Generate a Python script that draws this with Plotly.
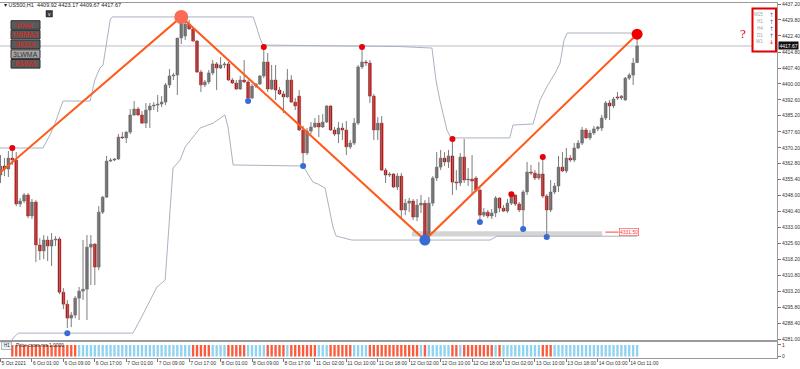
import plotly.graph_objects as go

# ---------------- data (US500, H1) ----------------
bar_open = [4357.5, 4361.7, 4360.3, 4365.4, 4364.5, 4344.0, 4345.4, 4348.2, 4338.4, 4344.9,
            4324.9, 4322.1, 4327.2, 4324.4, 4327.2, 4327.7, 4302.9, 4297.3, 4290.8, 4292.2,
            4300.1, 4303.4, 4304.3, 4323.9, 4325.3, 4314.6, 4340.2, 4347.2, 4364.0, 4364.5,
            4365.0, 4375.2, 4374.8, 4377.5, 4385.5, 4388.3, 4385.5, 4381.7, 4387.8, 4389.7,
            4390.1, 4390.6, 4391.5, 4399.5, 4403.7, 4404.1, 4421.4, 4422.3, 4427.9, 4425.6,
            4420.0, 4405.5, 4399.5, 4400.9, 4405.1, 4409.3, 4407.4, 4408.8, 4409.3, 4401.8,
            4400.4, 4397.6, 4401.8, 4400.9, 4393.4, 4399.0, 4399.9, 4403.7, 4410.2, 4397.6,
            4401.8, 4397.1, 4395.3, 4393.9, 4401.8, 4391.5, 4394.3, 4378.5, 4367.8, 4378.0,
            4379.9, 4381.7, 4379.9, 4382.2, 4389.7, 4378.5, 4376.6, 4379.4, 4378.5, 4370.6,
            4372.4, 4381.7, 4407.9, 4410.2, 4409.7, 4394.3, 4378.5, 4381.7, 4359.8, 4357.5,
            4358.0, 4351.9, 4357.0, 4341.2, 4344.4, 4345.4, 4337.9, 4343.5, 4344.4, 4329.0,
            4344.4, 4356.1, 4361.2, 4365.4, 4363.6, 4366.4, 4354.2, 4353.8, 4365.9, 4355.2,
            4355.6, 4356.1, 4350.5, 4338.8, 4340.2, 4338.4, 4339.8, 4346.8, 4342.1, 4340.7,
            4344.4, 4348.2, 4344.0, 4341.2, 4349.6, 4358.9, 4358.4, 4356.1, 4358.0, 4347.7,
            4341.2, 4349.6, 4352.4, 4361.2, 4359.4, 4365.4, 4364.5, 4370.1, 4372.4, 4378.5,
            4374.8, 4377.1, 4379.0, 4379.4, 4384.1, 4391.1, 4389.7, 4393.9, 4393.4, 4392.5,
            4402.7, 4404.1, 4409.92]
bar_high = [4366.8, 4365.4, 4368.7, 4369.6, 4368.2, 4346.8, 4349.1, 4349.1, 4346.3, 4345.8,
            4328.1, 4329.5, 4329.0, 4330.5, 4329.0, 4328.6, 4304.8, 4299.2, 4293.6, 4301.1,
            4305.3, 4327.2, 4329.5, 4329.5, 4325.8, 4343.0, 4347.7, 4366.4, 4365.4, 4365.4,
            4376.6, 4377.5, 4378.0, 4388.3, 4392.0, 4389.2, 4387.3, 4391.1, 4391.1, 4391.5,
            4394.8, 4394.3, 4400.4, 4406.9, 4405.1, 4421.4, 4431.2, 4429.3, 4429.8, 4426.5,
            4420.4, 4406.5, 4401.8, 4406.5, 4411.1, 4410.2, 4412.5, 4410.2, 4410.2, 4402.7,
            4401.8, 4403.7, 4411.1, 4401.8, 4399.9, 4400.4, 4404.1, 4417.2, 4414.4, 4408.8,
            4408.8, 4398.5, 4396.7, 4406.9, 4404.1, 4393.4, 4397.1, 4380.4, 4379.4, 4382.2,
            4384.1, 4385.5, 4385.9, 4390.1, 4390.1, 4379.9, 4382.2, 4381.7, 4382.7, 4373.8,
            4384.1, 4408.8, 4417.2, 4411.1, 4411.1, 4395.3, 4384.5, 4385.0, 4360.8, 4358.9,
            4358.4, 4358.4, 4358.4, 4346.3, 4346.8, 4346.3, 4346.3, 4348.2, 4345.8, 4347.2,
            4357.0, 4368.2, 4369.2, 4368.2, 4369.2, 4374.3, 4359.8, 4367.8, 4374.3, 4360.8,
            4366.8, 4357.0, 4351.4, 4342.1, 4341.2, 4341.6, 4347.7, 4347.2, 4343.5, 4346.3,
            4348.6, 4348.4, 4344.9, 4350.5, 4363.6, 4362.2, 4359.8, 4363.6, 4365.9, 4348.6,
            4355.2, 4353.8, 4366.4, 4368.2, 4370.1, 4366.8, 4372.4, 4373.8, 4379.9, 4379.4,
            4378.5, 4380.4, 4380.4, 4385.5, 4392.0, 4392.5, 4393.9, 4396.2, 4394.8, 4403.2,
            4405.1, 4412.1, 4423.17]
bar_low = [4353.8, 4357.0, 4356.6, 4362.2, 4343.0, 4342.6, 4344.4, 4337.4, 4337.0, 4316.9,
           4317.9, 4318.3, 4317.4, 4315.1, 4324.4, 4302.0, 4295.0, 4286.2, 4286.6, 4290.8,
           4289.9, 4299.2, 4289.9, 4306.2, 4306.2, 4313.2, 4339.3, 4346.8, 4363.6, 4364.0,
           4364.5, 4374.3, 4372.4, 4376.6, 4385.0, 4385.0, 4381.3, 4379.4, 4379.4, 4387.8,
           4386.9, 4389.2, 4390.1, 4398.1, 4401.8, 4394.8, 4418.6, 4420.5, 4425.1, 4419.5,
           4405.1, 4396.2, 4398.5, 4399.9, 4404.1, 4397.1, 4406.9, 4407.4, 4401.3, 4399.9,
           4397.1, 4397.1, 4400.4, 4392.5, 4392.9, 4398.1, 4399.5, 4402.7, 4396.2, 4397.1,
           4392.5, 4394.8, 4386.4, 4393.4, 4391.1, 4387.8, 4378.0, 4363.1, 4366.8, 4376.6,
           4379.4, 4375.2, 4379.4, 4381.7, 4378.0, 4375.7, 4372.4, 4373.8, 4366.8, 4369.6,
           4371.5, 4380.8, 4406.9, 4408.3, 4391.1, 4373.8, 4373.8, 4359.4, 4353.8, 4356.6,
           4351.4, 4350.5, 4337.4, 4338.8, 4340.2, 4336.5, 4336.0, 4339.8, 4327.2, 4328.1,
           4343.0, 4354.7, 4359.8, 4361.7, 4360.8, 4348.2, 4350.5, 4352.4, 4353.8, 4352.4,
           4348.2, 4349.6, 4337.0, 4337.9, 4337.4, 4337.0, 4337.9, 4340.2, 4340.2, 4339.8,
           4343.5, 4343.0, 4340.2, 4332.8, 4348.2, 4357.5, 4355.2, 4355.2, 4346.8, 4329.0,
           4340.2, 4348.6, 4349.6, 4358.9, 4358.4, 4363.6, 4363.6, 4369.6, 4371.5, 4374.3,
           4373.8, 4376.2, 4378.0, 4378.0, 4383.1, 4383.1, 4388.7, 4392.5, 4392.5, 4392.0,
           4401.8, 4399.5, 4409.67]
bar_close = [4361.7, 4360.3, 4365.4, 4364.5, 4344.0, 4345.4, 4348.2, 4338.4, 4344.9, 4324.9,
             4322.1, 4327.2, 4324.4, 4327.2, 4327.7, 4302.9, 4297.3, 4290.8, 4292.2, 4300.1,
             4303.4, 4304.3, 4323.9, 4325.3, 4314.6, 4340.2, 4347.2, 4364.0, 4364.5, 4365.0,
             4375.2, 4374.8, 4377.5, 4385.5, 4388.3, 4385.5, 4381.7, 4387.8, 4389.7, 4390.1,
             4390.6, 4391.5, 4399.5, 4403.7, 4404.1, 4421.4, 4428.8, 4427.9, 4425.6, 4420.0,
             4405.5, 4399.5, 4400.9, 4405.1, 4409.3, 4407.4, 4408.8, 4409.3, 4401.8, 4400.4,
             4397.6, 4401.8, 4400.9, 4393.4, 4399.0, 4399.9, 4403.7, 4410.2, 4397.6, 4401.8,
             4397.1, 4395.3, 4393.9, 4401.8, 4391.5, 4389.7, 4378.5, 4367.8, 4378.0, 4379.9,
             4381.7, 4379.9, 4382.2, 4389.7, 4378.5, 4376.6, 4379.4, 4378.5, 4370.6, 4372.4,
             4381.7, 4407.9, 4410.2, 4409.7, 4394.3, 4378.5, 4381.7, 4359.8, 4357.5, 4358.0,
             4351.9, 4357.0, 4341.2, 4344.4, 4345.4, 4337.9, 4343.5, 4344.4, 4329.0, 4344.4,
             4356.1, 4361.2, 4365.4, 4363.6, 4366.4, 4354.2, 4353.8, 4365.9, 4355.2, 4355.6,
             4354.7, 4350.5, 4338.8, 4340.2, 4338.4, 4339.8, 4346.8, 4342.1, 4340.7, 4344.4,
             4348.2, 4344.0, 4341.2, 4349.6, 4358.9, 4358.4, 4356.1, 4358.0, 4347.7, 4341.2,
             4349.6, 4352.4, 4361.2, 4359.4, 4365.4, 4364.5, 4370.1, 4372.4, 4378.5, 4374.8,
             4377.1, 4379.0, 4379.9, 4384.1, 4391.1, 4389.7, 4392.9, 4393.4, 4394.3, 4402.7,
             4404.1, 4409.7, 4417.67]

# channel (gray envelope) vertices: bar index, price
upper_bars = [-0.2, 10.8, 12.6, 13.9, 15.9, 22.8, 24.0, 25.3, 26.1, 27.9, 28.4, 64.3, 65.0, 66.0,
              66.8, 101.7, 109.8, 110.8, 111.8, 113.6, 114.6, 129.6, 130.4, 135.5, 137.3, 139.3,
              141.3, 142.4, 143.4, 144.2, 162.0]
upper_prices = [4370.1, 4370.1, 4376.2, 4381.7, 4392.0, 4392.0, 4401.8, 4407.4, 4408.8, 4429.8,
                4431.2, 4431.2, 4427.4, 4421.4, 4418.1, 4417.4, 4416.7, 4401.8, 4392.5, 4378.5,
                4374.8, 4374.8, 4380.8, 4381.3, 4392.5, 4399.5, 4405.5, 4409.7, 4420.4, 4423.7,
                4423.7]
lower_bars = [2.4, 3.2, 4.5, 33.7, 35.5, 39.8, 41.9, 43.9, 45.7, 47.0, 50.8, 54.1, 57.1, 57.9,
              59.2, 77.0, 79.5, 80.8, 82.6, 83.8, 84.6, 85.4, 89.4, 124.6, 126.3, 162.0]
lower_prices = [4278.2, 4281.5, 4283.8, 4283.8, 4289.9, 4305.3, 4308.5, 4360.8, 4364.5, 4370.6,
                4379.4, 4381.7, 4385.5, 4379.9, 4362.2, 4361.7, 4354.2, 4353.3, 4351.4, 4341.2,
                4333.3, 4329.1, 4327.2, 4327.2, 4329.0, 4329.0]

# zigzag
zigzag_bars = [-10, 46, 108, 162]
zigzag_prices = [4343.0, 4431.2, 4327.2, 4423.17]

# fractal dots
red_dot_bars = [3, 67, 92, 115, 130, 138]
red_dot_prices = [4370.1, 4417.2, 4417.2, 4374.3, 4348.6, 4365.9]
blue_dot_bars = [17, 63, 77, 122, 133, 139]
blue_dot_prices = [4283.8, 4392.0, 4361.7, 4335.6, 4332.3, 4328.6]

# support zone
zone_bars = [104.7, 153.1]
zone_prices = [4328.9, 4331.3]
zone_label = "4331.50"

# "Price cross ma" histogram runs: (first bar, last bar, state 1=above/blue 0=below/red)
hist_runs = [(3, 19, 0), (20, 48, 1), (49, 53, 0), (54, 57, 1), (58, 62, 0), (63, 67, 1),
             (68, 72, 0), (73, 73, 1), (74, 80, 0), (81, 83, 1), (84, 89, 0), (90, 93, 1),
             (94, 106, 0), (107, 107, 1), (108, 108, 0), (109, 114, 1), (115, 116, 0),
             (117, 117, 1), (118, 125, 0), (126, 126, 1), (127, 127, 0), (128, 137, 1),
             (138, 140, 0), (141, 162, 1)]

time_ticks = list(range(0, 161, 8))
time_labels = ["5 Oct 2021", "6 Oct 01:00", "6 Oct 09:00", "6 Oct 17:00", "7 Oct 01:00",
               "7 Oct 09:00", "7 Oct 17:00", "8 Oct 01:00", "8 Oct 09:00", "8 Oct 17:00",
               "11 Oct 02:00", "11 Oct 10:00", "11 Oct 18:00", "12 Oct 02:00", "12 Oct 10:00",
               "12 Oct 18:00", "13 Oct 02:00", "13 Oct 10:00", "13 Oct 18:00", "14 Oct 03:00",
               "14 Oct 11:00"]
price_ticks = [4437.20, 4429.80, 4422.40, 4414.80, 4407.40, 4400.00, 4392.60, 4385.20, 4377.60,
               4370.20, 4362.80, 4355.40, 4348.00, 4340.40, 4333.00, 4325.60, 4318.20, 4310.80,
               4303.20, 4295.80, 4288.40, 4281.00]

buttons = ["Pivot", "LWMA9", "3EMA", "3LWMA", "EMMA"]
buttons_active = [True, True, True, False, True]
tf_names = ["M15", "H1", "H4", "D1", "W1"]
tf_dirs = [1, 1, 1, 1, -1]

# ---------------- figure ----------------
W, H = 800, 369
ML, MR, MT, MB = 0, 23, 3, 11
PW = W - ML - MR
PH = H - MT - MB
FONT = "Liberation Sans"


def fx(px):
    return (px - ML) / PW


def fy(py):
    return (H - MB - py) / PH


N = len(bar_open)
fig = go.Figure()

# channel lines
fig.add_trace(go.Scatter(x=upper_bars, y=upper_prices, mode="lines",
                         line=dict(color="#a9b3c1", width=1), hoverinfo="skip"))
fig.add_trace(go.Scatter(x=lower_bars, y=lower_prices, mode="lines",
                         line=dict(color="#a9b3c1", width=1), hoverinfo="skip"))

# wicks
wx, wy = [], []
for i in range(N):
    wx += [i, i, None]
    wy += [bar_low[i], bar_high[i], None]
fig.add_trace(go.Scatter(x=wx, y=wy, mode="lines", line=dict(color="#7c7c7c", width=1),
                         hoverinfo="skip"))

# bodies
ux, ub, uh, dx, db, dh = [], [], [], [], [], []
for i in range(N):
    o, c = bar_open[i], bar_close[i]
    base = min(o, c)
    hgt = max(abs(c - o), 0.45)
    if c >= o:
        ux.append(i); ub.append(base); uh.append(hgt)
    else:
        dx.append(i); db.append(base); dh.append(hgt)
fig.add_trace(go.Bar(x=ux, y=uh, base=ub, width=0.72,
                     marker=dict(color="#6c6c6c", line=dict(color="#555555", width=0.4)),
                     hoverinfo="skip"))
fig.add_trace(go.Bar(x=dx, y=dh, base=db, width=0.72,
                     marker=dict(color="#d60000", line=dict(color="#a00000", width=0.4)),
                     hoverinfo="skip"))

# zigzag
fig.add_trace(go.Scatter(x=zigzag_bars, y=zigzag_prices, mode="lines",
                         line=dict(color="#ff5a1c", width=2), hoverinfo="skip"))

# fractal dots
fig.add_trace(go.Scatter(x=red_dot_bars, y=red_dot_prices, mode="markers",
                         marker=dict(color="#e8000b", size=6), hoverinfo="skip"))
fig.add_trace(go.Scatter(x=blue_dot_bars, y=blue_dot_prices, mode="markers",
                         marker=dict(color="#3a6ad6", size=6), hoverinfo="skip"))
# zigzag pivots
fig.add_trace(go.Scatter(x=[zigzag_bars[1]], y=[zigzag_prices[1]], mode="markers",
                         marker=dict(color="#fa6a55", size=14), hoverinfo="skip"))
fig.add_trace(go.Scatter(x=[zigzag_bars[2]], y=[zigzag_prices[2]], mode="markers",
                         marker=dict(color="#3a6ad6", size=11), hoverinfo="skip"))
fig.add_trace(go.Scatter(x=[zigzag_bars[3]], y=[zigzag_prices[3]], mode="markers",
                         marker=dict(color="#ee0000", size=11), hoverinfo="skip"))

# histogram sub-window
hx, hc = [], []
for a, b, s in hist_runs:
    for i in range(a, b + 1):
        hx.append(i)
        hc.append("#8fd3f0" if s == 1 else "#fb5b3c")
fig.add_trace(go.Bar(x=hx, y=[1] * len(hx), base=[0] * len(hx), width=0.6,
                     marker=dict(color=hc, line=dict(width=0)), xaxis="x2", yaxis="y2",
                     hoverinfo="skip"))

xr = [-0.13, 197.6]
shapes = []
# support zone band
shapes.append(dict(type="rect", xref="x", yref="y", x0=zone_bars[0], x1=zone_bars[1],
                   y0=zone_prices[0], y1=zone_prices[1], fillcolor="#d4d4d4",
                   line=dict(width=0), layer="below"))
shapes.append(dict(type="line", xref="x", yref="y", x0=zone_bars[1] + 0.8, x1=zone_bars[1] + 4.2,
                   y0=zone_prices[1] - 0.4, y1=zone_prices[1] - 0.4,
                   line=dict(color="#ff4040", width=1)))
# current price line
shapes.append(dict(type="line", xref="paper", yref="y", x0=0, x1=1,
                   y0=bar_close[-1], y1=bar_close[-1],
                   line=dict(color="#b9bec6", width=1), layer="below"))

ann = []
# header
ann.append(dict(xref="paper", yref="paper", x=fx(2), y=fy(5), xanchor="left", yanchor="middle",
                text="▾ US500,H1  %.2f %.2f %.2f %.2f" % (bar_open[-1], bar_high[-1],
                                                          bar_low[-1], bar_close[-1]),
                showarrow=False, font=dict(family=FONT, size=5.5, color="#222")))
# small V box
shapes.append(dict(type="rect", xref="paper", yref="paper", x0=fx(46), x1=fx(52.5),
                   y0=fy(17), y1=fy(10.5), fillcolor="#3a3a3a", line=dict(color="#222", width=0.5)))
ann.append(dict(xref="paper", yref="paper", x=fx(49.2), y=fy(13.8), text="v", showarrow=False,
                xanchor="center", yanchor="middle",
                font=dict(family=FONT, size=5, color="#fff")))
# buttons
for k, name in enumerate(buttons):
    top = 20.7 + k * 9.7
    bot = top + 8.6
    fill = "#5a5a5a" if buttons_active[k] else "#a6a6a6"
    shapes.append(dict(type="rect", xref="paper", yref="paper", x0=fx(11), x1=fx(40),
                       y0=fy(bot), y1=fy(top), fillcolor=fill, line=dict(color="#2e2e2e", width=1)))
    ann.append(dict(xref="paper", yref="paper", x=fx(25.5), y=fy((top + bot) / 2), text=name,
                    showarrow=False, xanchor="center", yanchor="middle",
                    font=dict(family=FONT, size=7, color="#e81818" if buttons_active[k] else "#333")))
# timeframe panel
shapes.append(dict(type="rect", xref="paper", yref="paper", x0=fx(752.5), x1=fx(776),
                   y0=fy(51.5), y1=fy(8.5), fillcolor="#ffffff", line=dict(color="#e00000", width=2)))
for k, (nm, d) in enumerate(zip(tf_names, tf_dirs)):
    yy = 15 + k * 6.7
    ann.append(dict(xref="paper", yref="paper", x=fx(765), y=fy(yy), xanchor="right",
                    yanchor="middle", text=nm, showarrow=False,
                    font=dict(family=FONT, size=4.5, color="#9aa2ad")))
    ann.append(dict(xref="paper", yref="paper", x=fx(771.2), y=fy(yy), text="↑" if d > 0 else "↓",
                    showarrow=False, xanchor="center", yanchor="middle",
                    font=dict(family="DejaVu Sans", size=6, color="#3d6ee0" if d > 0 else "#e00000")))
ann.append(dict(xref="paper", yref="paper", x=fx(743), y=fy(33), text="?", showarrow=False,
                xanchor="center", yanchor="middle",
                font=dict(family="Liberation Serif", size=13, color="#e00000")))
# price label on axis
ann.append(dict(xref="paper", yref="y", x=fx(778), y=bar_close[-1], xanchor="left",
                yanchor="middle", text="%.2f" % bar_close[-1], showarrow=False, bgcolor="#111",
                borderpad=0.5, font=dict(family=FONT, size=5, color="#fff")))
# zone label
ann.append(dict(xref="x", yref="y", x=zone_bars[1] + 4.3, y=zone_prices[1] - 0.4, xanchor="left",
                yanchor="middle", text=zone_label, showarrow=False, bgcolor="#fff",
                bordercolor="#ff4040", borderwidth=0.6, borderpad=0.3,
                font=dict(family=FONT, size=5, color="#ff3030")))
# sub-window label
shapes.append(dict(type="rect", xref="paper", yref="paper", x0=fx(1.5), x1=fx(11.5),
                   y0=fy(349.5), y1=fy(342), fillcolor="#eaf5fb", line=dict(color="#777", width=0.5)))
ann.append(dict(xref="paper", yref="paper", x=fx(6.5), y=fy(345.8), text="H1", showarrow=False,
                xanchor="center", yanchor="middle",
                font=dict(family=FONT, size=4.5, color="#222")))
ann.append(dict(xref="paper", yref="paper", x=fx(14), y=fy(345.8), xanchor="left",
                yanchor="middle", text="Price cross ma 1.0000", showarrow=False,
                font=dict(family=FONT, size=4.8, color="#222")))

fig.update_layout(
    width=W, height=H, margin=dict(l=ML, r=MR, t=MT, b=MB, autoexpand=False),
    paper_bgcolor="#ffffff", plot_bgcolor="#ffffff",
    showlegend=False, barmode="overlay", hovermode=False,
    shapes=shapes, annotations=ann,
    xaxis=dict(domain=[0, 1], range=xr, anchor="y", showticklabels=False, ticks="",
               showgrid=False, zeroline=False, showline=True, mirror=True, automargin=False,
               linecolor="#9a9a9a", linewidth=1),
    yaxis=dict(domain=[fy(340), 1], range=[4280.6, 4437.7], side="right", automargin=False,
               tickvals=price_ticks, ticktext=["%.2f" % v for v in price_ticks],
               ticks="outside", ticklen=3, tickcolor="#777", showgrid=False, zeroline=False,
               showline=True, mirror=True, linecolor="#9a9a9a", linewidth=1,
               tickfont=dict(family=FONT, size=5, color="#333")),
    xaxis2=dict(domain=[0, 1], range=xr, anchor="y2", matches="x", automargin=False,
                tickvals=time_ticks, ticktext=time_labels, ticks="outside", ticklen=3,
                tickangle=0, tickcolor="#777", ticklabelposition="outside right",
                showgrid=False, zeroline=False, showline=True, mirror=True,
                linecolor="#9a9a9a", linewidth=1,
                tickfont=dict(family=FONT, size=5, color="#333")),
    yaxis2=dict(domain=[0, fy(341.5)], range=[-0.14, 1.3], side="right", automargin=False,
                tickvals=[0, 1], ticktext=["0", "1"], ticks="outside", ticklen=3,
                tickcolor="#777", showgrid=False, zeroline=False, showline=True, mirror=True,
                linecolor="#9a9a9a", linewidth=1,
                tickfont=dict(family=FONT, size=5, color="#333")),
)

fig.write_html("out.html", config={"displayModeBar": False},
               post_script="document.body.style.margin='0px';document.body.style.overflow='hidden';")
